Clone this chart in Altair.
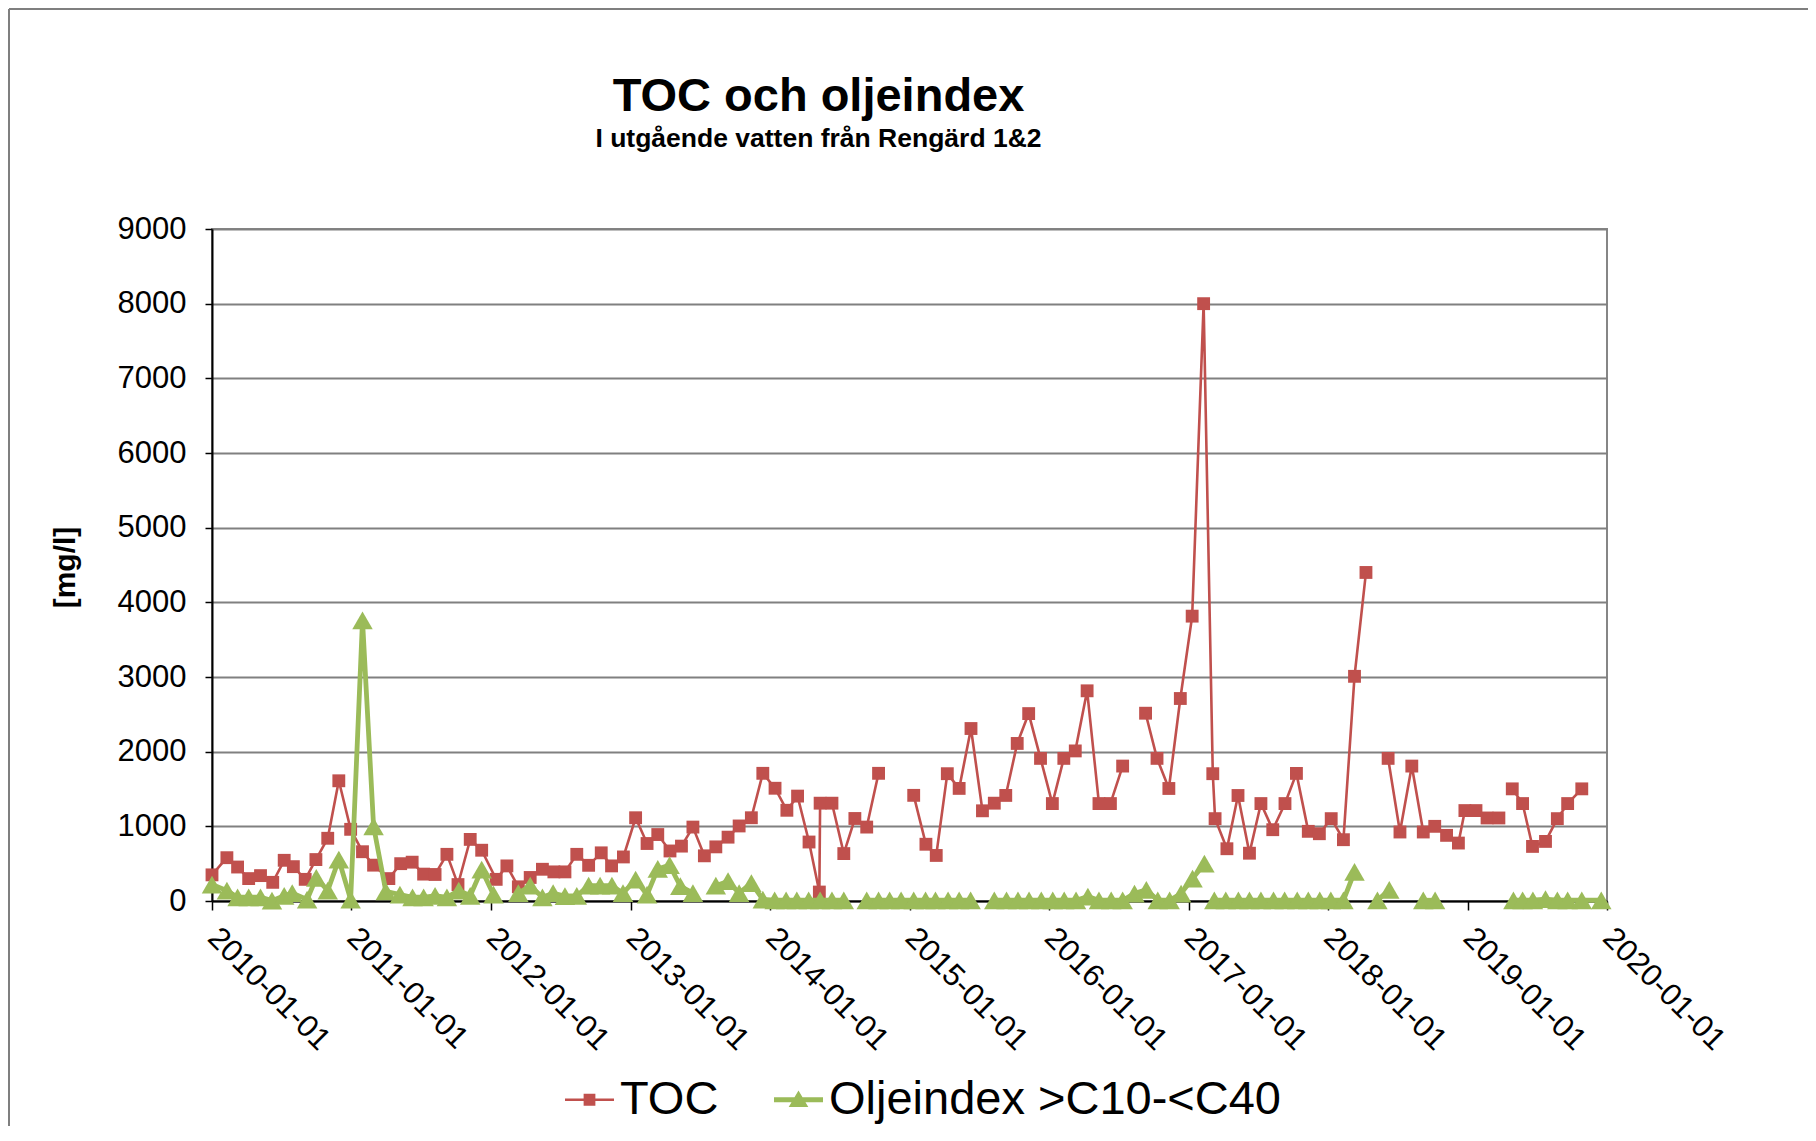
import altair as alt
import pandas as pd

FONT = "Liberation Sans"
RED = "#C0504D"
GREEN = "#9BBB59"

series_names = ["TOC", "Oljeindex >C10-<C40"]
x_tick_labels = ["2010-01-01", "2011-01-01", "2012-01-01", "2013-01-01", "2014-01-01",
                 "2015-01-01", "2016-01-01", "2017-01-01", "2018-01-01", "2019-01-01", "2020-01-01"]
y_ticks = [0, 1000, 2000, 3000, 4000, 5000, 6000, 7000, 8000, 9000]

toc_dates = [
    "2010-01-01", "2010-02-09", "2010-03-09", "2010-04-07", "2010-05-08", "2010-06-09", "2010-07-09",
    "2010-08-02", "2010-09-02", "2010-09-30", "2010-10-31", "2010-11-29", "2010-12-30",
    "2011-01-30", "2011-02-28", "2011-04-09", "2011-05-10", "2011-06-09", "2011-07-09", "2011-08-08",
    "2011-09-08", "2011-10-07", "2011-11-08", "2011-12-08",
    "2012-01-15", "2012-02-12", "2012-03-13", "2012-04-13", "2012-05-15", "2012-06-14", "2012-07-13",
    "2012-08-13", "2012-09-13", "2012-10-16", "2012-11-12", "2012-12-13",
    "2013-01-14", "2013-02-13", "2013-03-13", "2013-04-14", "2013-05-14", "2013-06-13", "2013-07-13",
    "2013-08-12", "2013-09-13", "2013-10-12", "2013-11-13", "2013-12-13",
    "2014-01-14", "2014-02-14", "2014-03-14", "2014-04-13", "2014-05-10", "2014-05-12", "2014-06-12",
    "2014-07-13", "2014-08-11", "2014-09-11", "2014-10-12",
    "2015-01-12", "2015-02-13", "2015-03-12", "2015-04-10", "2015-05-11", "2015-06-11", "2015-07-11",
    "2015-08-11", "2015-09-10", "2015-10-10", "2015-11-09", "2015-12-10",
    "2016-01-10", "2016-02-09", "2016-03-10", "2016-04-10", "2016-05-11", "2016-06-10", "2016-07-12",
    "2016-09-10", "2016-10-10", "2016-11-10", "2016-12-10",
    "2017-01-10", "2017-02-09", "2017-03-05", "2017-03-11", "2017-04-11", "2017-05-10", "2017-06-09",
    "2017-07-09", "2017-08-09", "2017-09-10", "2017-10-10", "2017-11-10", "2017-12-09",
    "2018-01-09", "2018-02-10", "2018-03-11", "2018-04-10",
    "2018-06-07", "2018-07-08", "2018-08-08", "2018-09-07", "2018-10-07", "2018-11-07", "2018-12-08",
    "2018-12-25",
    "2019-01-23", "2019-02-21", "2019-03-24",
    "2019-04-28", "2019-05-25", "2019-06-20", "2019-07-24", "2019-08-24", "2019-09-20", "2019-10-27",
]
toc_values = [
    350, 580, 455, 300, 340, 250, 545, 460, 290, 555, 840, 1610, 960,
    660, 480, 300, 500, 520, 360, 355, 625, 220, 825, 680,
    290, 470, 190, 315, 425, 390, 390, 625, 478, 645, 470, 590,
    1115, 770, 890, 670, 735, 990, 605, 725, 855, 1005, 1115, 1710,
    1510, 1215, 1405, 790, 120, 1310, 1310, 635, 1105, 990, 1710,
    1415, 760, 610, 1705, 1508, 2310, 1208, 1310, 1414, 2110, 2510, 1910,
    1305, 1910, 2010, 2815, 1305, 1305, 1807,
    2515, 1910, 1507, 2712,
    3815, 8000, 1705, 1103, 700, 1413, 640, 1305, 955, 1305, 1709, 933, 901,
    1103, 821, 3009, 4400,
    1910, 924, 1807, 924, 1000, 879, 776, 1211,
    1211, 1112, 1112,
    1502, 1305, 731, 798, 1103, 1305, 1502,
]
toc_breaks = ["2015-01-12", "2016-09-10", "2018-06-07", "2019-04-28"]

oil_dates = [
    "2010-01-01", "2010-02-09", "2010-03-09", "2010-04-07", "2010-05-08", "2010-06-07", "2010-07-09",
    "2010-07-30", "2010-09-07", "2010-10-01", "2010-10-31", "2010-11-29", "2010-12-30",
    "2011-01-30", "2011-02-28", "2011-04-01", "2011-05-08", "2011-06-10", "2011-07-09", "2011-08-08",
    "2011-09-08", "2011-10-09", "2011-11-08", "2011-12-08",
    "2012-01-08",
    "2012-03-13", "2012-04-13", "2012-05-15", "2012-06-12", "2012-07-13", "2012-08-13", "2012-09-13",
    "2012-10-13", "2012-11-13", "2012-12-12",
    "2013-01-14", "2013-02-13", "2013-03-13", "2013-04-13", "2013-05-11", "2013-06-13",
    "2013-08-12", "2013-09-13", "2013-10-12", "2013-11-13", "2013-12-13",
    "2014-01-13", "2014-02-12", "2014-03-12", "2014-04-12", "2014-05-12", "2014-06-12", "2014-07-13",
    "2014-09-11", "2014-10-12", "2014-11-10", "2014-12-10", "2015-01-12", "2015-02-12", "2015-03-10",
    "2015-04-12", "2015-05-11", "2015-06-10",
    "2015-08-11", "2015-09-12", "2015-10-12", "2015-11-10", "2015-12-12", "2016-01-11", "2016-02-10",
    "2016-03-12", "2016-04-12", "2016-05-11", "2016-06-12", "2016-07-12", "2016-08-12", "2016-09-12",
    "2016-10-12", "2016-11-12", "2016-12-12", "2017-01-11", "2017-02-11",
    "2017-03-09", "2017-04-08", "2017-05-11", "2017-06-09", "2017-07-09", "2017-08-11", "2017-09-09",
    "2017-10-12", "2017-11-10", "2017-12-10", "2018-01-08", "2018-02-10", "2018-03-11",
    "2018-05-10", "2018-06-10",
    "2018-09-07", "2018-10-08",
    "2019-05-01", "2019-05-25", "2019-06-21", "2019-07-24", "2019-08-24", "2019-09-20", "2019-10-27",
    "2019-12-17",
]
oil_values = [
    220, 140, 50, 50, 50, 5, 70, 105, 20, 310, 140, 555, 20,
    3760, 1000, 130, 85, 50, 50, 70, 50, 140, 70, 420,
    85,
    105, 205, 50, 105, 65, 70, 205, 205, 205, 105,
    285, 85, 430, 480, 200, 105,
    205, 265, 105, 240, 20,
    10, 10, 10, 10, 10, 10, 10,
    10, 10, 10, 10, 10, 10, 10, 10, 10, 10,
    10, 10, 10, 10, 10, 10, 10, 10, 60, 10, 10, 10, 100, 150, 10, 10, 100, 300, 500,
    10, 10, 10, 10, 10, 10, 10, 10, 10, 10, 10, 10, 390,
    10, 150,
    10, 10,
    10, 10, 10, 25, 10, 10, 10, 10,
]
oil_breaks = ["2012-03-13", "2013-08-12", "2014-09-11", "2015-08-11", "2017-03-09",
              "2018-05-10", "2018-09-07", "2019-05-01"]


def frame(dates, values, breaks, name):
    df = pd.DataFrame({"date": dates, "value": values})
    df["seg"] = [sum(d >= b for b in breaks) for d in dates]
    df["series"] = name
    return df


toc_df = frame(toc_dates, toc_values, toc_breaks, series_names[0])
oil_df = frame(oil_dates, oil_values, oil_breaks, series_names[1])


def utc_day(s):
    return alt.DateTime(year=int(s[:4]), month=int(s[5:7]), date=int(s[8:10]), utc=True)


x_enc = alt.X(
    "date:T",
    scale=alt.Scale(type="utc", domain=[utc_day(x_tick_labels[0]), utc_day(x_tick_labels[-1])], nice=False),
    axis=alt.Axis(
        values=[utc_day(s) for s in x_tick_labels],
        format="%Y-%m-%d",
        title=None,
        labelAngle=45,
        labelAlign="left",
        labelBaseline="middle",
        labelFont=FONT,
        labelFontSize=31,
        labelColor="black",
        labelPadding=23,
        labelOverlap=False,
        labelFlush=False,
        labelBound=False,
        tickSize=9,
        tickColor="black",
        tickWidth=1.5,
        domainColor="black",
        domainWidth=2,
        grid=False,
    ),
)
y_enc = alt.Y(
    "value:Q",
    scale=alt.Scale(domain=[y_ticks[0], y_ticks[-1]], nice=False),
    axis=alt.Axis(
        values=y_ticks,
        format="d",
        title="[mg/l]",
        titleFont=FONT,
        titleFontSize=30,
        titleFontWeight="bold",
        titleColor="black",
        titleAngle=270,
        titleX=-132,
        titleY=338,
        titleAlign="center",
        titleBaseline="bottom",
        labelFont=FONT,
        labelFontSize=31,
        labelColor="black",
        labelPadding=19,
        labelFlush=False,
        tickSize=7,
        tickColor="black",
        tickWidth=1.5,
        domainColor="black",
        domainWidth=2,
        grid=True,
        gridColor="#808080",
        gridWidth=1.8,
    ),
)

toc_line = alt.Chart(toc_df).mark_line(color=RED, strokeWidth=2.6).encode(x=x_enc, y=y_enc, detail="seg:N")
toc_pts = alt.Chart(toc_df).mark_point(shape="square", filled=True, color=RED, size=165, opacity=1).encode(x=x_enc, y=y_enc)
oil_line = alt.Chart(oil_df).mark_line(color=GREEN, strokeWidth=4.8).encode(x=x_enc, y=y_enc, detail="seg:N")
oil_pts = alt.Chart(oil_df).mark_point(shape="triangle-up", filled=True, color=GREEN, size=420, opacity=1).encode(x=x_enc, y=y_enc)

toc_symbol = "M-1,-0.05H1V0.05H-1Z M-0.24,-0.24H0.24V0.24H-0.24Z"
oil_symbol = "M-1,-0.1H1V0.1H-1Z M-0.4,0.3L0,-0.38L0.4,0.3Z"

legend_kwargs = dict(
    title=None, orient="none", legendX=353, legendY=846, direction="horizontal",
    labelFont=FONT, labelFontSize=47, labelColor="black", labelLimit=1000,
    symbolSize=2401, symbolStrokeWidth=0, symbolOpacity=1, labelOffset=6,
    columnPadding=55, padding=0,
)
legend_df = pd.DataFrame({"series": series_names})
legend_layer = alt.Chart(legend_df).transform_filter("false").mark_point(filled=True, opacity=1).encode(
    color=alt.Color("series:N", scale=alt.Scale(domain=series_names, range=[RED, GREEN]),
                    legend=alt.Legend(**legend_kwargs)),
    shape=alt.Shape("series:N", scale=alt.Scale(domain=series_names, range=[toc_symbol, oil_symbol]),
                    legend=alt.Legend(**legend_kwargs)),
)

border_df = pd.DataFrame({"k": [0]})
border_top = alt.Chart(border_df).mark_rule(color="#7f7f7f", strokeWidth=2).encode(
    x=alt.value(-203), x2=alt.value(1700), y=alt.value(-220))
border_left = alt.Chart(border_df).mark_rule(color="#7f7f7f", strokeWidth=2).encode(
    x=alt.value(-203), y=alt.value(-220), y2=alt.value(1000))

chart = alt.layer(border_top, border_left, toc_line, toc_pts, oil_line, oil_pts, legend_layer).properties(
    width=1395,
    height=672,
    title=alt.TitleParams(
        text="TOC och oljeindex",
        subtitle="I utgående vatten från Rengärd 1&2",
        font=FONT, fontSize=47, fontWeight="bold", color="black",
        subtitleFont=FONT, subtitleFontSize=26.5, subtitleFontWeight="bold", subtitleColor="black",
        subtitlePadding=5, anchor="middle", frame="group", dx=-91, offset=-145,
    ),
    padding={"left": 204, "top": 221, "right": 201, "bottom": 225},
    autosize=alt.AutoSizeParams(type="none"),
    background="white",
).configure_view(stroke="#868686", strokeWidth=2)

chart.save("out.html", embed_options={"renderer": "svg", "actions": False})
